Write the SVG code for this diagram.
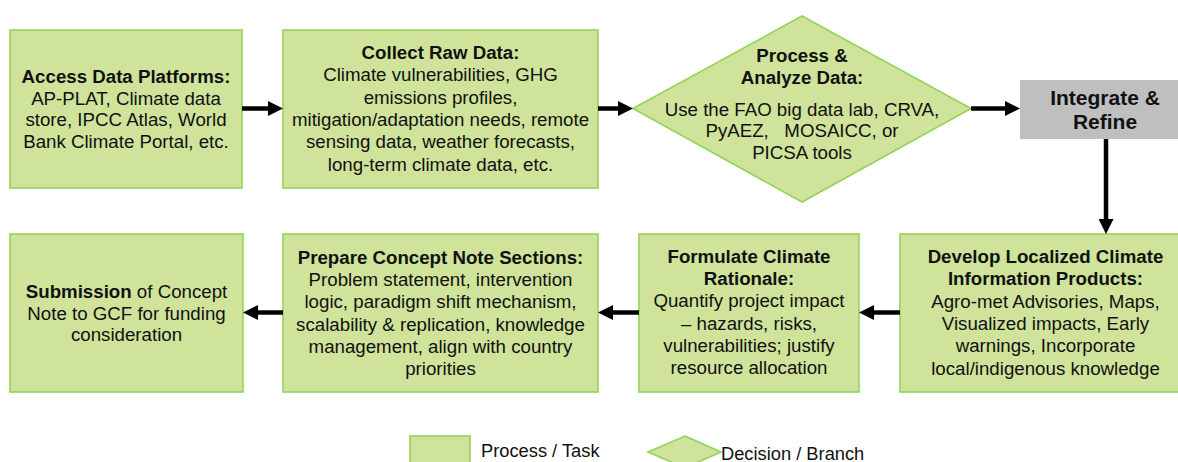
<svg xmlns="http://www.w3.org/2000/svg" width="1178" height="462" viewBox="0 0 1178 462">
<style>
.box{fill:#cfe39b;stroke:#93d35a;stroke-width:1.6}
.grey{fill:#bfbfbf;stroke:none}
text{font-family:"Liberation Sans",Arial,sans-serif;font-size:18.7px;fill:#111;text-anchor:middle}
.b{font-weight:bold}
.big{font-weight:bold;font-size:21px}
.conn{stroke:#000;stroke-width:4.5;fill:none}
.lg{text-anchor:start;font-size:18.3px}
</style>
<defs>
<marker id="ah" markerUnits="userSpaceOnUse" markerWidth="15" markerHeight="15" refX="5" refY="7.5" orient="auto">
<path d="M0,0 L15,7.5 L0,15 z" fill="#000"/>
</marker>
</defs>
<rect width="1178" height="462" fill="#fff"/>

<g id="access">
<rect class="box" x="10" y="30" width="232" height="158"/>
<text x="126" y="83"><tspan class="b">Access Data Platforms:</tspan><tspan x="126" dy="21.7">AP-PLAT, Climate data</tspan><tspan x="126" dy="21.7">store, IPCC Atlas, World</tspan><tspan x="126" dy="21.7">Bank Climate Portal, etc.</tspan></text>
</g>

<g id="collect">
<rect class="box" x="283" y="30" width="315" height="158"/>
<text x="440.5" y="59"><tspan class="b">Collect Raw Data:</tspan><tspan x="440.5" dy="22.3">Climate vulnerabilities, GHG</tspan><tspan x="440.5" dy="22.3">emissions profiles,</tspan><tspan x="440.5" dy="22.3">mitigation/adaptation needs, remote</tspan><tspan x="440.5" dy="22.3">sensing data, weather forecasts,</tspan><tspan x="440.5" dy="22.3">long-term climate data, etc.</tspan></text>
</g>

<g id="process">
<polygon class="box" points="802,16 971,108.5 802,202 633,108.5"/>
<text x="802" y="62" style="white-space:pre"><tspan class="b">Process &amp;</tspan><tspan x="802" dy="21.5" class="b">Analyze Data:</tspan><tspan x="802" dy="32">Use the FAO big data lab, CRVA,</tspan><tspan x="802" dy="21.7">PyAEZ,   MOSAICC, or</tspan><tspan x="802" dy="21.7">PICSA tools</tspan></text>
</g>

<g id="integrate">
<rect class="grey" x="1020" y="80" width="170" height="59"/>
<text x="1105" y="105" class="big">Integrate &amp;<tspan x="1105" dy="23.5">Refine</tspan></text>
</g>

<g id="develop">
<rect class="box" x="900" y="234" width="290" height="158"/>
<text x="1045.5" y="263"><tspan class="b">Develop Localized Climate</tspan><tspan x="1045.5" dy="22.3" class="b">Information Products:</tspan><tspan x="1045.5" dy="22.3">Agro-met Advisories, Maps,</tspan><tspan x="1045.5" dy="22.3">Visualized impacts, Early</tspan><tspan x="1045.5" dy="22.3">warnings, Incorporate</tspan><tspan x="1045.5" dy="22.3">local/indigenous knowledge</tspan></text>
</g>

<g id="formulate">
<rect class="box" x="639" y="234" width="220" height="158"/>
<text x="749" y="263"><tspan class="b">Formulate Climate</tspan><tspan x="749" dy="22.2" class="b">Rationale:</tspan><tspan x="749" dy="22.2">Quantify project impact</tspan><tspan x="749" dy="22.2">– hazards, risks,</tspan><tspan x="749" dy="22.2">vulnerabilities; justify</tspan><tspan x="749" dy="22.2">resource allocation</tspan></text>
</g>

<g id="prepare">
<rect class="box" x="283" y="234" width="315" height="158"/>
<text x="440.5" y="264"><tspan class="b">Prepare Concept Note Sections:</tspan><tspan x="440.5" dy="22.2">Problem statement, intervention</tspan><tspan x="440.5" dy="22.2">logic, paradigm shift mechanism,</tspan><tspan x="440.5" dy="22.2">scalability &amp; replication, knowledge</tspan><tspan x="440.5" dy="22.2">management, align with country</tspan><tspan x="440.5" dy="22.2">priorities</tspan></text>
</g>

<g id="submission">
<rect class="box" x="10" y="234" width="233" height="158"/>
<text x="126.5" y="298"><tspan class="b">Submission</tspan> of Concept<tspan x="126.5" dy="21.7">Note to GCF for funding</tspan><tspan x="126.5" dy="21.7">consideration</tspan></text>
</g>

<g id="connectors">
<line class="conn" x1="242" y1="108.5" x2="273" y2="108.5" marker-end="url(#ah)"/>
<line class="conn" x1="598" y1="108.5" x2="623" y2="108.5" marker-end="url(#ah)"/>
<line class="conn" x1="971" y1="108.5" x2="1010" y2="108.5" marker-end="url(#ah)"/>
<line class="conn" x1="1106" y1="139" x2="1106" y2="224" marker-end="url(#ah)"/>
<line class="conn" x1="900" y1="312.5" x2="869" y2="312.5" marker-end="url(#ah)"/>
<line class="conn" x1="639" y1="312.5" x2="608" y2="312.5" marker-end="url(#ah)"/>
<line class="conn" x1="283" y1="312.5" x2="253" y2="312.5" marker-end="url(#ah)"/>
</g>

<g id="legend">
<rect class="box" x="410" y="436" width="60" height="40"/>
<text class="lg" x="481" y="457">Process / Task</text>
<polygon class="box" points="685,436 721,452 685,468 648,452"/>
<text class="lg" x="721" y="459.5">Decision / Branch</text>
</g>
</svg>
